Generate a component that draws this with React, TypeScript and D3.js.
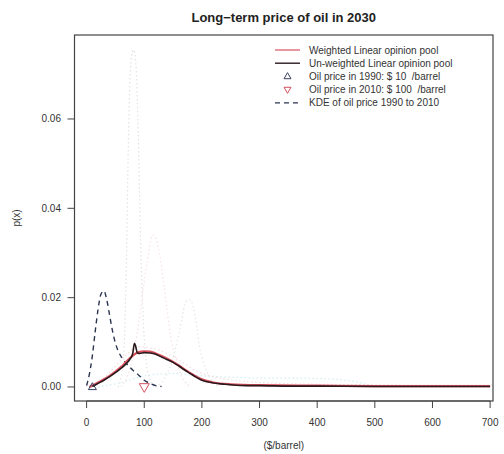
import React from "react";
import * as d3 from "d3";

// Individual expert densities (faint dotted)
const expertAx = [55, 64, 69, 73, 77, 81, 85, 89, 93, 99, 107, 118];
const expertAy = [0, 0.006, 0.028, 0.058, 0.073, 0.0755, 0.073, 0.06, 0.036, 0.013, 0.003, 0];
const expertBx = [60, 75, 90, 105, 115, 125, 135, 145, 160, 180];
const expertBy = [0, 0.004, 0.014, 0.028, 0.034, 0.031, 0.022, 0.012, 0.004, 0];
const expertCx = [120, 140, 155, 165, 172, 180, 188, 196, 210, 230];
const expertCy = [0, 0.003, 0.009, 0.015, 0.019, 0.0195, 0.016, 0.009, 0.003, 0];
const expertDx = [20, 60, 100, 150, 200, 250, 300, 350, 400, 450, 480, 500];
const expertDy = [0, 0.001, 0.0025, 0.003, 0.0025, 0.0022, 0.002, 0.002, 0.0019, 0.0015, 0.0008, 0];
const expertEx = [5, 30, 60, 90, 120, 160, 200, 300, 400, 500, 600, 705];
const expertEy = [0, 0.002, 0.006, 0.009, 0.0085, 0.006, 0.003, 0.001, 0.0006, 0.0005, 0.0004, 0.0004];

// KDE of observed oil prices 1990–2010
const kdeX = [0, 5, 10, 15, 20, 25, 30, 35, 40, 45, 50, 55, 60, 65, 70, 75, 80, 85, 90, 95, 100, 110, 120, 130];
const kdeY = [0.0003, 0.003, 0.007, 0.0125, 0.0175, 0.0208, 0.0215, 0.0195, 0.016, 0.0125, 0.0098, 0.008, 0.0068, 0.0059, 0.0051, 0.0044, 0.0038, 0.0032, 0.0027, 0.0021, 0.0015, 0.0008, 0.0003, 0.0001];

// Un-weighted linear opinion pool
const poolX = [10, 20, 30, 40, 50, 60, 70, 75, 80, 83, 85, 88, 92, 100, 110, 120, 130, 140, 150, 160, 170, 180, 190, 200, 220, 240, 260, 280, 300, 350, 400, 500, 600, 700];
const poolY = [0.0001, 0.0008, 0.0015, 0.0023, 0.0032, 0.0042, 0.0054, 0.0062, 0.0075, 0.0098, 0.0092, 0.0076, 0.0075, 0.0077, 0.0076, 0.0073, 0.0067, 0.0061, 0.0055, 0.0047, 0.0038, 0.003, 0.0022, 0.0015, 0.0009, 0.0006, 0.0004, 0.0003, 0.0003, 0.0002, 0.0002, 0.0001, 0.0001, 0.0001];

// Weighted linear opinion pool
const wPoolX = [5, 20, 40, 60, 70, 80, 90, 100, 110, 120, 140, 160, 180, 200, 220, 250, 300, 400, 500, 600, 700];
const wPoolY = [0, 0.001, 0.0025, 0.0045, 0.0058, 0.007, 0.0078, 0.008, 0.0079, 0.0075, 0.0063, 0.0048, 0.0031, 0.0017, 0.001, 0.0006, 0.0004, 0.0003, 0.0002, 0.0002, 0.0002];

// Reference prices
const price1990 = 10;
const price2010 = 100;

const xTicks = [0, 100, 200, 300, 400, 500, 600, 700];
const yTicks = [0, 0.02, 0.04, 0.06];

const legendLabels = [
  "Weighted Linear opinion pool",
  "Un-weighted Linear opinion pool",
  "Oil price in 1990: $ 10  /barrel",
  "Oil price in 2010: $ 100  /barrel",
  "KDE of oil price 1990 to 2010",
];

const W = 504;
const H = 454;
const left = 74.5;
const right = 493;
const top = 35;
const bottom = 401;

export default function App() {
  const x = d3.scaleLinear().domain([-21, 705]).range([left, right]);
  const y = d3.scaleLinear().domain([-0.00314, 0.0788]).range([bottom, top]);

  const mk = (xs: number[], ys: number[], curve: d3.CurveFactory = d3.curveMonotoneX) =>
    d3
      .line<number>()
      .x((_, i) => x(xs[i]))
      .y((d) => y(d))
      .curve(curve)(ys) as string;

  const experts = [
    { xs: expertAx, ys: expertAy, c: "#e2e2e2" },
    { xs: expertBx, ys: expertBy, c: "#f6e0e3" },
    { xs: expertCx, ys: expertCy, c: "#e6e6e6" },
    { xs: expertDx, ys: expertDy, c: "#cdeef0" },
    { xs: expertEx, ys: expertEy, c: "#f8dade" },
  ];

  const font = "'Liberation Sans', Arial, Helvetica, sans-serif";
  const tri = (cx: number, cy: number, s: number, up: boolean) => {
    const h = s * 0.866;
    return up
      ? `M${cx},${cy - h * 0.62}L${cx + s / 2},${cy + h * 0.38}L${cx - s / 2},${cy + h * 0.38}Z`
      : `M${cx},${cy + h * 0.62}L${cx + s / 2},${cy - h * 0.38}L${cx - s / 2},${cy - h * 0.38}Z`;
  };

  const legX0 = 275;
  const legX1 = 300;
  const legTextX = 309;
  const legY0 = 50;
  const legStep = 13.2;

  return (
    <svg width={W} height={H} style={{ display: "block", position: "absolute", left: 0, top: 0 }} fontFamily={font}>
      <rect width={W} height={H} fill="#fff" />
      <defs>
        <clipPath id="plotArea">
          <rect x={left} y={top} width={right - left} height={bottom - top} />
        </clipPath>
      </defs>

      <g clipPath="url(#plotArea)">
        {experts.map((e, i) => (
          <path key={i} d={mk(e.xs, e.ys)} fill="none" stroke={e.c} strokeWidth={1.2} strokeDasharray="1.5,2.5" />
        ))}
        <path d={mk(kdeX, kdeY)} fill="none" stroke="#2b3550" strokeWidth={1.4} strokeDasharray="5,4" />
        <path d={mk(wPoolX, wPoolY)} fill="none" stroke="#d9505e" strokeWidth={2.2} />
        <path d={mk(poolX, poolY)} fill="none" stroke="#2a1a1e" strokeWidth={1.6} />
        <path d={tri(x(price1990), y(0), 8, true)} fill="none" stroke="#3a4060" strokeWidth={1} />
        <path d={tri(x(price2010), y(0), 10, false)} fill="none" stroke="#d05060" strokeWidth={1} />
      </g>

      <rect x={left} y={top} width={right - left} height={bottom - top} fill="none" stroke="#444" strokeWidth={1.2} />

      {/* x axis */}
      <line x1={x(0)} x2={x(700)} y1={bottom} y2={bottom} stroke="#444" strokeWidth={1} />
      {xTicks.map((t) => (
        <g key={t}>
          <line x1={x(t)} x2={x(t)} y1={bottom} y2={bottom + 7} stroke="#444" strokeWidth={1} />
          <text x={x(t)} y={bottom + 25} fontSize={10} textAnchor="middle" fill="#333">
            {t}
          </text>
        </g>
      ))}
      <text x={(left + right) / 2} y={449} fontSize={10} textAnchor="middle" fill="#333">
        ($/barrel)
      </text>

      {/* y axis */}
      {yTicks.map((t) => (
        <g key={t}>
          <line x1={left} x2={left - 7} y1={y(t)} y2={y(t)} stroke="#444" strokeWidth={1} />
          <text x={61} y={y(t) + 3.5} fontSize={10} textAnchor="end" fill="#333">
            {t.toFixed(2)}
          </text>
        </g>
      ))}
      <text transform={`translate(20,${(top + bottom) / 2}) rotate(-90)`} fontSize={10} textAnchor="middle" fill="#333">
        p(x)
      </text>

      {/* title */}
      <text x={(left + right) / 2} y={22} fontSize={13} fontWeight="bold" textAnchor="middle" fill="#222">
        Long−term price of oil in 2030
      </text>

      {/* legend */}
      <g fontSize={10} fill="#333">
        <line x1={legX0} x2={legX1} y1={legY0} y2={legY0} stroke="#d9505e" strokeWidth={1.2} />
        <line x1={legX0} x2={legX1} y1={legY0 + legStep} y2={legY0 + legStep} stroke="#2a1a1e" strokeWidth={1.4} />
        <path d={tri((legX0 + legX1) / 2, legY0 + 2 * legStep, 7, true)} fill="none" stroke="#3a4060" strokeWidth={1} />
        <path d={tri((legX0 + legX1) / 2, legY0 + 3 * legStep, 7, false)} fill="none" stroke="#d05060" strokeWidth={1} />
        <line x1={legX0} x2={legX1} y1={legY0 + 4 * legStep} y2={legY0 + 4 * legStep} stroke="#2b3550" strokeWidth={1.2} strokeDasharray="5,4" />
        {legendLabels.map((l, i) => (
          <text key={i} x={legTextX} y={legY0 + i * legStep + 3.5} style={{ whiteSpace: "pre" }}>
            {l}
          </text>
        ))}
      </g>
    </svg>
  );
}
